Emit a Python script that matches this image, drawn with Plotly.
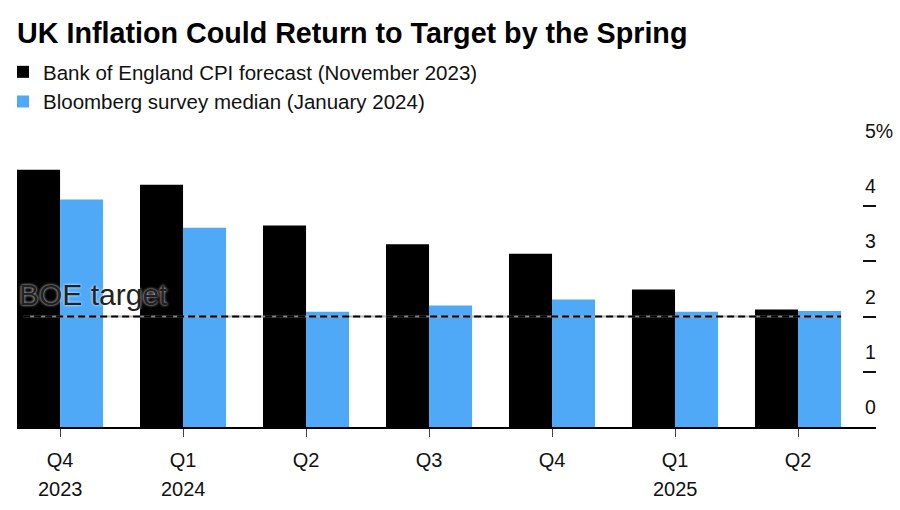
import plotly.graph_objects as go

quarters = ["Q4", "Q1", "Q2", "Q3", "Q4", "Q1", "Q2"]
years = ["2023", "2024", "", "", "", "2025", ""]
boe_forecast = [4.66, 4.39, 3.65, 3.31, 3.14, 2.49, 2.13]
bloomberg_median = [4.12, 3.61, 2.09, 2.2, 2.31, 2.09, 2.1]
y_ticks = [0, 1, 2, 3, 4, 5]
y_tick_labels = ["0", "1", "2", "3", "4", "5%"]
target = 2

FONT = "Arial, 'Liberation Sans', Helvetica, sans-serif"
BLUE = "#4FA9F6"

x = list(range(len(quarters)))

fig = go.Figure()
fig.add_trace(go.Bar(x=x, y=boe_forecast, name="Bank of England CPI forecast (November 2023)",
                     marker=dict(color="#000000", line=dict(width=0))))
fig.add_trace(go.Bar(x=x, y=bloomberg_median, name="Bloomberg survey median (January 2024)",
                     marker=dict(color=BLUE, line=dict(width=0))))

# target line: light underlay + black dashes
fig.add_shape(type="line", xref="x", yref="y", x0=-0.30, x1=6.35, y0=target, y1=target,
              line=dict(color="rgba(170,170,170,0.8)", width=2), layer="above")
fig.add_shape(type="line", xref="x", yref="y", x0=-0.30, x1=6.35, y0=target, y1=target,
              line=dict(color="#000000", width=2, dash="7px,4px"), layer="above")

fig.add_annotation(x=0, xref="paper", xanchor="left", y=target, yref="y", yanchor="middle",
                   yshift=22, text="BOE target", showarrow=False,
                   font=dict(family=FONT, size=30, color="#222222", shadow="0px 0px 3px #ffffff"))

for v, lab in zip(y_ticks, y_tick_labels):
    fig.add_annotation(x=0.985, xref="paper", xanchor="left", y=v, yref="y", yanchor="middle",
                       yshift=20, text=lab, showarrow=False,
                       font=dict(family=FONT, size=19.5, color="#111111"))

for xi, yr in zip(x, years):
    if yr:
        fig.add_annotation(x=xi, xref="x", xanchor="center", y=0, yref="paper", yanchor="middle",
                           yshift=-62, text=yr, showarrow=False,
                           font=dict(family=FONT, size=20, color="#111111"))

fig.update_layout(
    width=900, height=510,
    margin=dict(l=17, r=24, t=151, b=83, autoexpand=False),
    paper_bgcolor="white", plot_bgcolor="white",
    barmode="group", bargap=0.3, bargroupgap=0,
    title=dict(text="<b>UK Inflation Could Return to Target by the Spring</b>",
               x=17 / 900, xanchor="left", xref="container",
               y=1 - 32.5 / 510, yanchor="middle", yref="container",
               font=dict(family=FONT, size=28.7, color="#000000")),
    legend=dict(orientation="v", x=3 / 900, xref="container", xanchor="left",
                y=1 - 52 / 510, yref="container", yanchor="top",
                font=dict(family=FONT, size=20.5, color="#111111"),
                bgcolor="rgba(0,0,0,0)", itemclick=False, tracegroupgap=0),
    showlegend=True,
    font=dict(family=FONT),
)
fig.update_xaxes(range=[-0.35, 6.634], tickvals=x, ticktext=quarters,
                 ticks="outside", ticklen=8, tickcolor="#444444", tickwidth=1,
                 ticklabelstandoff=6,
                 showline=True, linecolor="#000000", linewidth=1.5,
                 showgrid=False, zeroline=False,
                 tickfont=dict(family=FONT, size=20, color="#111111"))
fig.update_yaxes(range=[0, 5], tickvals=y_ticks, side="right", ticks="inside", ticklen=13,
                 tickcolor="#111111", tickwidth=1.5, showticklabels=False,
                 showgrid=False, zeroline=False, showline=False)

fig.write_html("out.html")
